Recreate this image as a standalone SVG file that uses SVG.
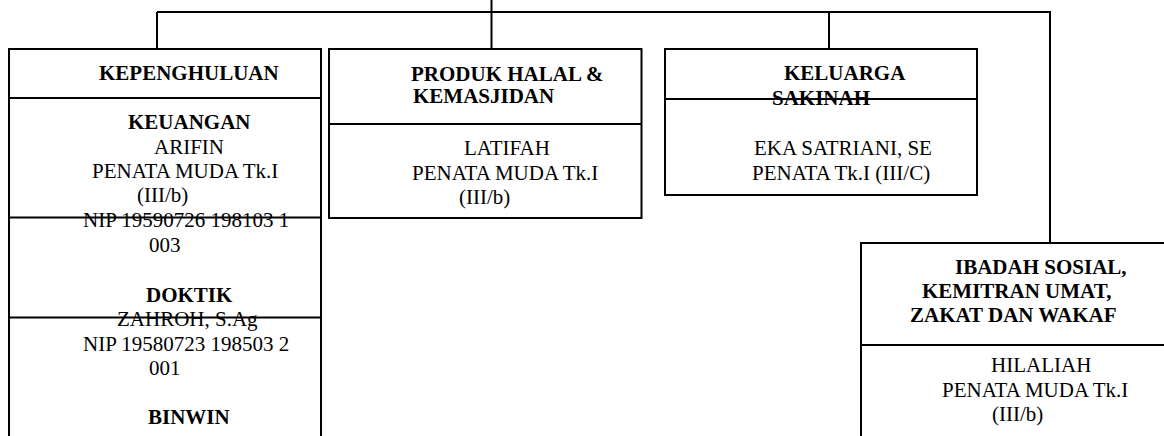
<svg xmlns="http://www.w3.org/2000/svg" width="1164" height="436" viewBox="0 0 1164 436">
<style>
.box{fill:#fff;stroke:#000;stroke-width:2}
.ln{stroke:#000;stroke-width:2;fill:none}
text{font-family:"Liberation Serif","Times New Roman",serif;font-size:21px;fill:#000}
.b{font-weight:bold}
</style>
<rect width="1164" height="436" fill="#fff"/>
<g id="connectors">
<path class="ln" d="M157,12 H1050 V243"/>
<path class="ln" d="M157,12 V49"/>
<path class="ln" d="M491.5,0 V49"/>
<path class="ln" d="M829,12 V49"/>
</g>
<g id="kepenghuluan">
<rect class="box" x="9" y="49" width="312" height="400"/>
<line class="ln" x1="9" y1="98" x2="321" y2="98"/>
<text class="b" x="99" y="80">KEPENGHULUAN</text>
<text class="b" x="128" y="128.5">KEUANGAN</text>
<text x="154" y="153.5">ARIFIN</text>
<text x="92" y="178">PENATA MUDA Tk.I</text>
<text x="137" y="202">(III/b)</text>
<text x="83" y="226.5">NIP 19590726 198103 1</text>
<text x="149" y="251.5">003</text>
<text class="b" x="146" y="301.5">DOKTIK</text>
<text x="117" y="326">ZAHROH, S.Ag</text>
<text x="83" y="350.5">NIP 19580723 198503 2</text>
<text x="149" y="375">001</text>
<text class="b" x="148" y="424">BINWIN</text>
<line class="ln" x1="9" y1="217.5" x2="321" y2="217.5"/>
<line class="ln" x1="9" y1="317.5" x2="321" y2="317.5"/>
</g>
<g id="produk-halal">
<rect class="box" x="329" y="49" width="312.5" height="169"/>
<line class="ln" x1="329" y1="124" x2="641.5" y2="124"/>
<text class="b" x="411" y="81">PRODUK HALAL &amp;</text>
<text class="b" x="413" y="103">KEMASJIDAN</text>
<text x="464" y="155">LATIFAH</text>
<text x="412" y="179.5">PENATA MUDA Tk.I</text>
<text x="459" y="203.5">(III/b)</text>
</g>
<g id="keluarga-sakinah">
<rect class="box" x="665" y="49" width="312" height="146"/>
<text class="b" x="784" y="80">KELUARGA</text>
<text class="b" x="772" y="105">SAKINAH</text>
<line class="ln" x1="665" y1="99" x2="977" y2="99"/>
<text x="754" y="155">EKA SATRIANI, SE</text>
<text x="752" y="180">PENATA Tk.I (III/C)</text>
</g>
<g id="ibadah-sosial">
<rect class="box" x="861" y="243" width="330" height="220"/>
<line class="ln" x1="861" y1="345" x2="1191" y2="345"/>
<text class="b" x="955" y="274">IBADAH SOSIAL,</text>
<text class="b" x="922" y="298">KEMITRAN UMAT,</text>
<text class="b" x="910" y="322">ZAKAT DAN WAKAF</text>
<text x="991" y="372">HILALIAH</text>
<text x="942" y="396.5">PENATA MUDA Tk.I</text>
<text x="992" y="421">(III/b)</text>
</g>
</svg>
